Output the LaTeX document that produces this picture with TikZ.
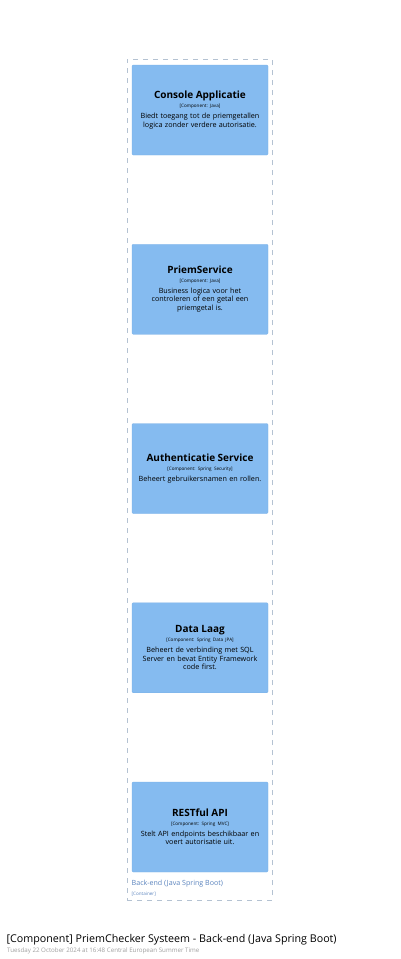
\documentclass[tikz,border=0pt]{standalone}
\usepackage{fontspec}
\setmainfont{Open Sans}
\usetikzlibrary{positioning}
\frenchspacing
\definecolor{boxblue}{HTML}{85BBF0}
\definecolor{boxedge}{HTML}{7AB0E6}
\definecolor{bndline}{HTML}{B4C2D2}
\definecolor{bndtext}{HTML}{5A83BD}
\definecolor{subgray}{HTML}{A0A0A0}
\tikzset{
  comp/.style={rectangle, rounded corners=1.2pt, fill=boxblue, draw=boxedge, line width=0.4pt,
    minimum width=136pt, minimum height=90pt, inner sep=0pt},
  comptext/.style={align=center, text width=140pt, inner sep=0pt, font=\fontsize{7.2}{8.8}\selectfont},
  bndbox/.style={draw=bndline, line width=0.9pt, dash pattern=on 5pt off 5pt, inner sep=0pt,
    minimum width=145pt, minimum height=841pt},
}
\newcommand{\ctitle}[1]{{\fontsize{10}{10}\selectfont\bfseries #1}\par\vspace{0pt}}
\newcommand{\cmeta}[1]{{\fontsize{4.6}{5.5}\selectfont #1}\par\vspace{2pt}}
\begin{document}
\begin{tikzpicture}[x=1pt,y=-1pt]
\useasboundingbox (0,0) rectangle (400,959);
\node[bndbox] (bnd) at (199.5,479.5) {};
\node[comp] (c1) at (200,110) {};
\node[comptext] (t1) at (c1.center) {\ctitle{Console Applicatie}\cmeta{[Component: Java]}Biedt toegang tot de priemgetallen\\logica zonder verdere autorisatie.};
\node[comp] (c2) at (200,289.25) {};
\node[comptext] (t2) at (c2.center) {\ctitle{PriemService}\cmeta{[Component: Java]}Business logica voor het\\controleren of een getal een\\priemgetal is.};
\node[comp] (c3) at (200,468.5) {};
\node[comptext] (t3) at (c3.center) {\ctitle{Authenticatie Service}\cmeta{[Component: Spring Security]}Beheert gebruikersnamen en rollen.};
\node[comp] (c4) at (200,647.75) {};
\node[comptext] (t4) at (c4.center) {\ctitle{Data Laag}\cmeta{[Component: Spring Data JPA]}Beheert de verbinding met SQL\\Server en bevat Entity Framework\\code first.};
\node[comp] (c5) at (200,827) {};
\node[comptext] (t5) at (c5.center) {\ctitle{RESTful API}\cmeta{[Component: Spring MVC]}Stelt API endpoints beschikbaar en\\voert autorisatie uit.};
\node[anchor=north west, inner sep=0pt, align=left, text=bndtext] (bl) at (131.5,879.5) {{\fontsize{7.1}{8}\selectfont Back-end (Java Spring Boot)}\\[-2pt]{\fontsize{4.6}{5.5}\selectfont [Container]}};
\node[anchor=west, inner sep=0pt] (title) at (6.5,940) {\fontsize{10.7}{12}\selectfont [Component] PriemChecker Systeem - Back-end (Java Spring Boot)};
\node[anchor=west, inner sep=0pt, text=subgray] (sub) at (7,950.5) {\fontsize{6.2}{7}\selectfont Tuesday 22 October 2024 at 16:48 Central European Summer Time};
\end{tikzpicture}
\end{document}
